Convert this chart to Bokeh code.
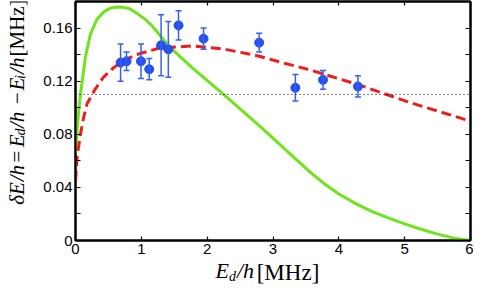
import math
from bokeh.plotting import figure
from bokeh.layouts import row
from bokeh.models import (ColumnDataSource, Whisker, TeeHead, LinearAxis, FixedTicker,
                          Range1d, Span)
from bokeh.core.properties import value
from bokeh.embed import file_html
from bokeh.resources import INLINE

# ---------------- data ----------------
e_d = [0.685, 0.775, 0.995, 1.12, 1.30, 1.41, 1.565, 1.945, 2.79, 3.34, 3.76, 4.29]
delta_e = [0.134, 0.135, 0.135, 0.129, 0.147, 0.144, 0.162, 0.152, 0.149, 0.115, 0.121, 0.116]
err_hi = [0.148, 0.142, 0.148, 0.137, 0.170, 0.165, 0.173, 0.160, 0.156, 0.125, 0.128, 0.124]
err_lo = [0.120, 0.128, 0.122, 0.121, 0.124, 0.123, 0.151, 0.144, 0.142, 0.105, 0.114, 0.108]

green_x = [0.0, 0.025, 0.05, 0.075, 0.15, 0.225, 0.325, 0.425, 0.525, 0.625, 0.725, 0.825,
           0.95, 1.075, 1.175, 1.275, 1.425, 1.775, 2.275, 2.825, 3.375, 3.6, 3.8, 4.0,
           4.25, 4.5, 4.75, 5.0, 5.25, 5.5, 5.75, 6.0]
green_y = [0.066, 0.084, 0.098, 0.110, 0.138, 0.155, 0.1665, 0.172, 0.175, 0.1758, 0.1756, 0.1745,
           0.1705, 0.166, 0.161, 0.155, 0.146, 0.130, 0.109, 0.085, 0.060, 0.050, 0.042, 0.035,
           0.028, 0.022, 0.017, 0.0125, 0.0085, 0.0048, 0.0018, 0.0]

red_x = [0.0, 0.025, 0.075, 0.125, 0.175, 0.30, 0.425, 0.575, 0.75, 0.925, 1.275, 1.775, 2.275,
         2.775, 3.175, 3.525, 4.275, 5.075, 5.9, 6.0]
red_y = [0.045, 0.063, 0.080, 0.093, 0.103, 0.114, 0.123, 0.130, 0.136, 0.140, 0.145, 0.1465, 0.144,
         0.139, 0.1335, 0.129, 0.1177, 0.104, 0.0914, 0.0898]

threshold = 0.11

x_ticks = [0, 1, 2, 3, 4, 5, 6]
y_ticks = [0, 0.04, 0.08, 0.12, 0.16]
y_tick_labels = ["0", "0.04", "0.08", "0.12", "0.16"]
y_minor = [0.02, 0.06, 0.10, 0.14]

BLUE = "#2350ee"
BLUE_ERR = "#3a5ff0"
GREEN = "#6fe41c"
RED = "#f01c1c"
TICK_FONT = "Liberation Sans"
SERIF = "Liberation Serif"

W, H = 473, 287          # whole block
YT_W = 40                # strip holding the y title
MAIN_W = W - YT_W
X0, X1 = 0, 6
FL, FR = 75, 470         # frame edges in block pixels (layout)

# ---------------- main plot ----------------
p = figure(width=MAIN_W, height=H, x_range=Range1d(X0, X1), y_range=Range1d(0, 0.18),
           output_backend="svg", toolbar_location=None,
           min_border_left=FL - YT_W, min_border_right=W - FR, min_border_top=1,
           min_border_bottom=47)
p.background_fill_color = "white"
p.border_fill_color = "white"
p.outline_line_color = "black"
p.outline_line_width = 2
p.xgrid.visible = False
p.ygrid.visible = False

p.line(green_x, green_y, line_color=GREEN, line_width=3)
p.line(red_x, red_y, line_color=RED, line_width=3, line_dash="10 5")
p.add_layout(Span(location=threshold, dimension="width", line_color="black",
                  line_width=1, line_dash="1 3"))

src = ColumnDataSource(dict(x=e_d, y=delta_e, hi=err_hi, lo=err_lo))
w = Whisker(source=src, base="x", upper="hi", lower="lo", line_color=BLUE_ERR, line_width=1.5,
            upper_head=TeeHead(size=6, line_color=BLUE_ERR, line_width=1.5),
            lower_head=TeeHead(size=6, line_color=BLUE_ERR, line_width=1.5))
w.level = "glyph"
p.add_layout(w)
p.scatter("x", "y", source=src, size=9, fill_color=BLUE, line_color=BLUE)


def style_axis(ax, ticks, minor=None, labels=True, tick_len=4):
    ax.ticker = FixedTicker(ticks=ticks, minor_ticks=minor or [])
    ax.major_tick_in = tick_len
    ax.major_tick_out = 0
    ax.minor_tick_in = tick_len
    ax.minor_tick_out = 0
    ax.axis_line_width = 2
    ax.axis_line_color = "black"
    ax.major_tick_line_color = "black"
    ax.minor_tick_line_color = "black"
    ax.major_tick_line_width = 1.2
    ax.minor_tick_line_width = 1.2
    if labels:
        ax.major_label_text_font = TICK_FONT
        ax.major_label_text_font_size = "15px"
        ax.major_label_text_color = "black"
        ax.major_label_standoff = 3
    else:
        ax.major_label_text_font_size = "1px"
        ax.major_label_text_color = None
        ax.major_label_standoff = 0


style_axis(p.xaxis[0], x_ticks, labels=True, tick_len=4)
style_axis(p.yaxis[0], y_ticks, minor=y_minor, labels=True, tick_len=5)
p.yaxis[0].major_label_overrides = {t: s for t, s in zip(y_ticks, y_tick_labels)}

top = LinearAxis()
style_axis(top, x_ticks, labels=False, tick_len=4)
p.add_layout(top, "above")
right = LinearAxis()
style_axis(right, y_ticks, minor=y_minor, labels=False, tick_len=5)
p.add_layout(right, "right")


# ---- x title E_d/h[MHz]: label-only axes below the plot, one per text style ----
def px_to_x(px):
    return X0 + (px - FL) * (X1 - X0) / (FR - FL)


def text_axis(pieces, size, italic, standoff):
    ax = LinearAxis()
    locs = [px_to_x(c) for _, c in pieces]
    ax.ticker = FixedTicker(ticks=locs, minor_ticks=[])
    ax.major_label_overrides = {loc: t for loc, (t, _) in zip(locs, pieces)}
    ax.axis_line_color = None
    ax.major_tick_line_color = None
    ax.minor_tick_line_color = None
    ax.major_tick_in = 0
    ax.major_tick_out = 0
    ax.minor_tick_in = 0
    ax.minor_tick_out = 0
    ax.major_label_text_font = SERIF
    ax.major_label_text_font_size = f"{size}px"
    ax.major_label_text_font_style = "italic" if italic else "normal"
    ax.major_label_text_color = "black"
    ax.major_label_standoff = standoff
    p.add_layout(ax, "below")


text_axis([("E", 221.7), ("/h", 245.0)], 22, True, 1)
text_axis([("d", 232.0)], 14, True, -17)
text_axis([("[MHz]", 287.5)], 23, False, -27)

# ---- y title δE/h = E_d/h − E_i/h[MHz] in a strip left of the plot (block pixels) ----
yt = figure(width=YT_W, height=H, x_range=Range1d(0, YT_W), y_range=Range1d(H, 0),
            output_backend="svg", toolbar_location=None,
            x_axis_type=None, y_axis_type=None, min_border=0)
yt.outline_line_color = None
yt.background_fill_color = "white"
yt.border_fill_color = "white"


def piece(f, text, x, y, size, italic=True, angle=0.0):
    f.text(x=[x], y=[y], text=[text], text_font=value(SERIF), text_font_size=value(f"{size}px"),
           text_font_style="italic" if italic else "normal", text_color="black",
           text_align="left", text_baseline="alphabetic", angle=angle)


A = math.pi / 2
bx = 16
piece(yt, "δE", bx, 244, 21, angle=A)
piece(yt, "/h", bx, 216, 21, angle=A)
piece(yt, "=", bx, 195, 21, angle=A)
piece(yt, "E", bx, 175, 21, angle=A)
piece(yt, "d", bx + 4, 161, 14, angle=A)
piece(yt, "/h", bx, 152, 21, angle=A)
piece(yt, "−", bx, 125, 21, angle=A)
piece(yt, "E", bx, 107, 21, angle=A)
piece(yt, "i", bx + 4, 93, 14, angle=A)
piece(yt, "/h", bx, 87, 21, angle=A)
piece(yt, "[MHz]", bx, 66, 21, italic=False, angle=A)

layout = row(yt, p, spacing=0)

open("out.html", "w").write(file_html(layout, INLINE))
